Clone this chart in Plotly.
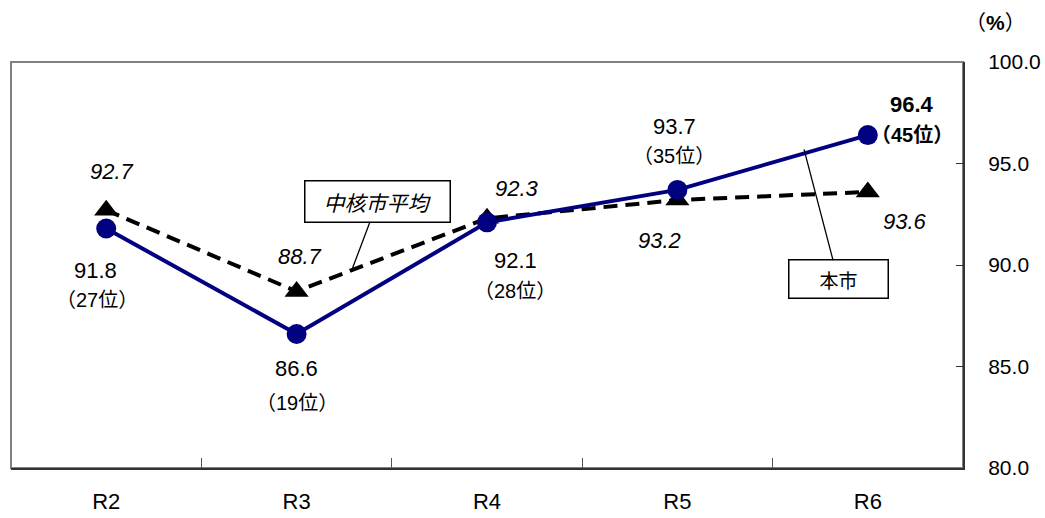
import plotly.graph_objects as go

categories = ["R2", "R3", "R4", "R5", "R6"]
city_values = [91.8, 86.6, 92.1, 93.7, 96.4]
city_ranks = ["（27位）", "（19位）", "（28位）", "（35位）", "（45位）"]
avg_values = [92.7, 88.7, 92.3, 93.2, 93.6]
city_name = "本市"
avg_name = "中核市平均"

FONT = "Liberation Sans, Arial, Noto Sans CJK JP, sans-serif"
JP = "Noto Sans CJK JP, sans-serif"

fig = go.Figure()
fig.add_trace(go.Scatter(
    x=categories, y=avg_values, mode="lines+markers", name=avg_name,
    line=dict(color="black", width=4, dash="14px,8px"),
    marker=dict(symbol="triangle-up", size=21, color="black"),
))
fig.add_trace(go.Scatter(
    x=categories, y=city_values, mode="lines+markers", name=city_name,
    line=dict(color="#000080", width=4),
    marker=dict(symbol="circle", size=20, color="#000080"),
))

# label offsets (pixels) relative to points
city_off = [(-11, -42), (0, -34), (28, -38), (-3, 63), (44, 31)]
rank_off = [(-9, -72), (0, -69), (28, -69), (-3, 34), (44, 0)]
avg_off = [(6, 42), (3, 38), (30, 33), (-18, -37), (37, -27)]

anns = []
for i, c in enumerate(categories):
    bold = i == 4
    anns.append(dict(x=c, y=city_values[i], xref="x", yref="y", showarrow=False,
                     text=(f"<b>{city_values[i]:.1f}</b>" if bold else f"{city_values[i]:.1f}"),
                     xshift=city_off[i][0], yshift=city_off[i][1],
                     font=dict(family=FONT, size=22, color="black")))
    anns.append(dict(x=c, y=city_values[i], xref="x", yref="y", showarrow=False,
                     text=(f"<b>{city_ranks[i]}</b>" if bold else city_ranks[i]),
                     xshift=rank_off[i][0], yshift=rank_off[i][1],
                     font=dict(family=FONT, size=20, color="black")))
    anns.append(dict(x=c, y=avg_values[i], xref="x", yref="y", showarrow=False,
                     text=f"<i>{avg_values[i]:.1f}</i>",
                     xshift=avg_off[i][0], yshift=avg_off[i][1] - 3,
                     font=dict(family=FONT, size=22, color="black")))

# callouts
anns.append(dict(x=1.29, y=89.75, xref="x", yref="y", showarrow=True, arrowhead=0,
                 arrowwidth=1.3, arrowcolor="black", ax=26, ay=-69,
                 text=f"<i>{avg_name}</i>", bgcolor="white", bordercolor="black",
                 borderwidth=1.5, borderpad=5, width=134, height=30,
                 font=dict(family=JP, size=21, color="black")))
anns.append(dict(x=3.665, y=95.7, xref="x", yref="y", showarrow=True, arrowhead=0,
                 arrowwidth=1.3, arrowcolor="black", ax=34, ay=130,
                 text=f"{city_name}", bgcolor="white", bordercolor="black",
                 borderwidth=1.5, borderpad=5, width=88,
                 font=dict(family=JP, size=19, color="black")))
anns.append(dict(x=1.0, y=1.0, xref="paper", yref="paper", xanchor="center", yanchor="middle",
                 xshift=32, yshift=40, showarrow=False, text="（<b>%</b>）",
                 font=dict(family=FONT, size=21, color="black")))

fig.update_layout(
    width=1045, height=518,
    margin=dict(l=11, r=82, t=62, b=50),
    paper_bgcolor="white", plot_bgcolor="white",
    showlegend=False,
    annotations=anns,
    shapes=[dict(type="rect", xref="paper", yref="paper", x0=0, y0=0, x1=1, y1=1,
                 line=dict(color="#808080", width=2), layer="below")],
    xaxis=dict(type="category", tickson="boundaries", ticks="inside", ticklen=10,
               tickcolor="#555", showgrid=False, showline=True, linecolor="#333",
               linewidth=2, range=[-0.5, 4.5], ticklabelstandoff=13, automargin=False,
               tickfont=dict(family=FONT, size=22, color="black")),
    yaxis=dict(side="right", range=[80, 100], dtick=5, tickformat=".1f",
               ticks="inside", ticklen=7, tickcolor="#333", showgrid=False,
               showline=True, linecolor="#333", linewidth=2, zeroline=False,
               ticklabelstandoff=19, automargin=False,
               tickfont=dict(family=FONT, size=21, color="black")),
)

fig.write_html("out.html")
